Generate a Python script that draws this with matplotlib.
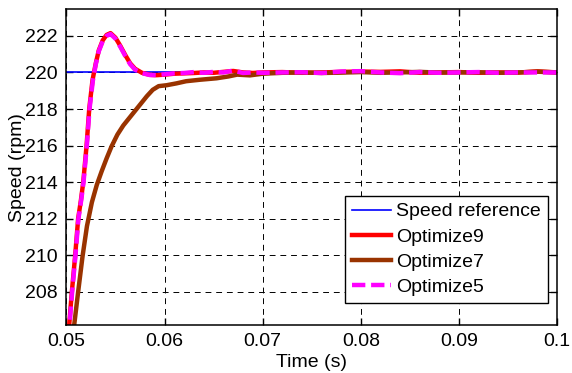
# %%
# Imports
import matplotlib
matplotlib.use("Agg")
import matplotlib.pyplot as plt

plt.rcParams["font.family"] = ["Liberation Sans", "DejaVu Sans"]
plt.rcParams["font.size"] = 14

# %%
# Datos

t_ref = [0.05, 0.1]
speed_ref = [220, 220]

t_opt9 = [0.0500, 0.05029, 0.05056, 0.0509, 0.0512, 0.05148, 0.05172, 0.05206,
          0.05233, 0.05267, 0.0530, 0.0533, 0.0537, 0.0541, 0.0545, 0.0550,
          0.0555, 0.0560, 0.0565, 0.0570, 0.0577, 0.0585, 0.0592, 0.0600, 0.0610,
          0.0620, 0.0630, 0.0640, 0.0650, 0.0660, 0.0670, 0.0680, 0.0690, 0.0700,
          0.0720, 0.0740, 0.0760, 0.0780, 0.0800, 0.0820, 0.0840, 0.0860, 0.0880,
          0.0900, 0.0920, 0.0940, 0.0960, 0.0980, 0.1000]
speed_opt9 = [204.5, 206.2, 208.0, 210.0, 212.0, 213.0, 214.0, 216.0,
              218.0, 219.6, 220.5, 221.2, 221.75, 222.05, 222.15, 221.9,
              221.45, 220.95, 220.5, 220.2, 219.98, 219.87, 219.85, 219.88, 219.93,
              219.95, 219.97, 220.0, 219.98, 220.03, 220.08, 220.0, 219.97, 220.0,
              220.02, 219.98, 220.0, 220.03, 220.05, 220.03, 220.06, 219.98, 220.0,
              220.02, 219.98, 220.0, 219.99, 220.06, 220.0]

t_opt7 = [0.0505, 0.0508, 0.0512, 0.05165, 0.0521, 0.0526, 0.0531, 0.0536,
          0.0541, 0.0546, 0.0552, 0.0558, 0.0564, 0.0570, 0.0576, 0.0582, 0.0588,
          0.0594, 0.0602, 0.0612, 0.0622, 0.0636, 0.0653, 0.0665, 0.0674, 0.0687,
          0.0700, 0.0720, 0.0740, 0.0760, 0.0780, 0.0800, 0.0820, 0.0840, 0.0860,
          0.0880, 0.0900, 0.0920, 0.0940, 0.0960, 0.0980, 0.1000]
speed_opt7 = [204.8, 206.2, 208.0, 209.95, 211.6, 212.9, 213.85, 214.6,
              215.3, 215.95, 216.6, 217.1, 217.5, 217.9, 218.3, 218.7, 219.05,
              219.25, 219.3, 219.4, 219.52, 219.6, 219.68, 219.78, 219.88, 219.84,
              219.93, 219.98, 220.0, 219.97, 219.99, 220.02, 219.98, 220.0, 220.03,
              219.99, 220.0, 220.01, 219.98, 220.0, 220.04, 220.0]

t_opt5 = [0.0500, 0.05032, 0.05059, 0.05093, 0.05123, 0.05151, 0.05175, 0.05209,
          0.05236, 0.0527, 0.0530, 0.0533, 0.0537, 0.0541, 0.0545, 0.0550,
          0.0555, 0.0560, 0.0565, 0.0570, 0.0577, 0.0585, 0.0592, 0.0600, 0.0610,
          0.0620, 0.0630, 0.0640, 0.0650, 0.0660, 0.0670, 0.0680, 0.0690, 0.0700,
          0.0720, 0.0740, 0.0760, 0.0780, 0.0800, 0.0820, 0.0840, 0.0860, 0.0880,
          0.0900, 0.0920, 0.0940, 0.0960, 0.0980, 0.1000]
speed_opt5 = [204.4, 206.2, 208.0, 210.0, 212.0, 213.0, 214.0, 216.0,
              218.0, 219.55, 220.45, 221.15, 221.7, 222.0, 222.1, 221.85,
              221.4, 220.9, 220.45, 220.15, 219.96, 219.86, 219.85, 219.9, 219.95,
              219.97, 220.02, 219.98, 220.03, 220.0, 220.1, 219.97, 220.0, 219.98,
              220.0, 220.01, 219.97, 220.05, 220.07, 220.0, 219.96, 220.02, 219.98,
              220.0, 220.02, 219.98, 220.0, 220.0, 220.0]

x_ticks = [0.05, 0.06, 0.07, 0.08, 0.09, 0.1]
x_tick_labels = ["0.05", "0.06", "0.07", "0.08", "0.09", "0.1"]
y_ticks = [208, 210, 212, 214, 216, 218, 220, 222]

# %%
# Grafico

fig = plt.figure(figsize=(5.72, 3.73), dpi=100)
ax = fig.add_axes([0.116, 0.129, 0.858, 0.846])

ax.plot(t_ref, speed_ref, color="#0000ff", linewidth=1.2, label="Speed reference")
ax.plot(t_opt9, speed_opt9, color="#ff0000", linewidth=3.2, label="Optimize9")
ax.plot(t_opt7, speed_opt7, color="#993300", linewidth=3.2, label="Optimize7")
ax.plot(t_opt5, speed_opt5, color="#ff00ff", linewidth=3.2, dashes=(3, 1.3),
        label="Optimize5")

ax.set_xlim(0.05, 0.1)
ax.set_ylim(206.2, 223.45)
ax.set_xticks(x_ticks)
ax.set_xticklabels(x_tick_labels)
ax.set_yticks(y_ticks)
ax.tick_params(direction="in", top=True, right=True, length=5, width=1, pad=6)
for s in ax.spines.values():
    s.set_linewidth(1.1)

ax.grid(True, color="black", linestyle=(0, (6, 5)), linewidth=0.7)

ax.set_xlabel("Time (s)", labelpad=2.5)
ax.set_ylabel("Speed (rpm)", labelpad=-0.5)

leg = ax.legend(loc="lower right", bbox_to_anchor=(0.981, 0.07), fancybox=False,
                framealpha=1, edgecolor="black", handlelength=2.05, labelspacing=0.39,
                borderpad=0.35, handletextpad=0.25, borderaxespad=0)
leg.get_frame().set_linewidth(1.0)

plt.savefig("out.png", dpi=100)
plt.close()
